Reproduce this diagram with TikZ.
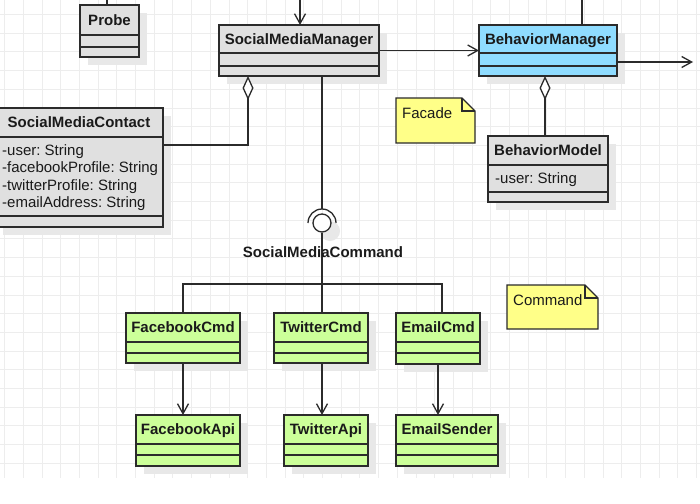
\documentclass[tikz,border=0pt]{standalone}
\usepackage{fontspec}
\setmainfont{Liberation Sans}
\frenchspacing
\usetikzlibrary{arrows.meta}
\definecolor{gridc}{HTML}{EDEDED}
\definecolor{shadowc}{HTML}{E8E8E8}
\definecolor{grayfill}{HTML}{E0E0E0}
\definecolor{bluefill}{HTML}{8FDCFF}
\definecolor{greenfill}{HTML}{CCFF99}
\definecolor{notefill}{HTML}{FFFF88}
\definecolor{linec}{HTML}{2B2B2B}
\definecolor{textc}{HTML}{1A1A1A}
\tikzset{
  clsbox/.style={draw=linec, line width=1.3pt, inner sep=0pt, outer sep=0pt, rectangle},
  clsname/.style={font=\fontsize{15}{17.5}\selectfont\bfseries, text=textc, inner sep=0pt, anchor=base},
  attr/.style={font=\fontsize{15}{17.5}\selectfont, text=textc, inner sep=0pt, anchor=base west},
  conn/.style={draw=linec, line width=1.3pt},
  opena/.style={-{Straight Barb[length=10pt,width=11pt]}},
  agg/.style={{Diamond[length=24pt,width=11pt,fill=white]}-},
  notebox/.style={draw=linec, line width=1.3pt, fill=notefill},
}
\newcommand{\umlcls}[9]{%
  \fill[shadowc] ({#2+8},{#3+8}) rectangle ({#4+8},{#5+8});
  \node[clsbox,fill=#8,minimum width={((#4)-(#2))*1pt},minimum height={((#5)-(#3))*1pt}] (#1) at ({((#2)+(#4))/2},{((#3)+(#5))/2}) {};
  \draw[conn] (#2,#6) -- (#4,#6) (#2,#7) -- (#4,#7);
  \node[clsname] (#1-n) at ({((#2)+(#4))/2},{((#3)+(#6))/2+5.4}) {#9};
}
\newcommand{\umlnote}[6]{% name, x1, y1, x2, y2, text
  \draw[notebox] (#2,#3) -- ({#4-13},#3) -- (#4,{#3+13}) -- (#4,#5) -- (#2,#5) -- cycle;
  \draw[conn] ({#4-13},#3) -- ({#4-13},{#3+13}) -- (#4,{#3+13});
  \node[attr] (#1) at ({#2+6},{#3+20}) {#6};
}
\begin{document}
\begin{tikzpicture}[x=1pt,y=-1pt]
\useasboundingbox (0,0) rectangle (700,503);
\clip (0,0) rectangle (700,503);
\fill[white] (0,0) rectangle (700,503);
% grid
\foreach \i in {0,...,37} \draw[gridc, line width=0.8pt] ({4.5+18.7*\i},0) -- ({4.5+18.7*\i},478);
\foreach \j in {0,...,24} \draw[gridc, line width=0.8pt] (0,{14.4+18.7*\j}) -- (700,{14.4+18.7*\j});

% classes
\umlcls{probe}{80}{5}{139}{57}{35}{47}{grayfill}{Probe}
\umlcls{smm}{219}{25}{379}{76}{53}{66}{grayfill}{SocialMediaManager}
\umlcls{bm}{479}{25}{617}{76}{53}{66}{bluefill}{BehaviorManager}
\umlcls{smc}{-5}{108}{163}{227}{137}{216}{grayfill}{SocialMediaContact}
\umlcls{bmod}{488}{136}{608}{202}{165}{192}{grayfill}{BehaviorModel}
\umlcls{fbc}{126}{313}{240}{363}{342}{353}{greenfill}{FacebookCmd}
\umlcls{twc}{274}{313}{368}{363}{342}{353}{greenfill}{TwitterCmd}
\umlcls{emc}{396}{313}{480}{364}{342}{353}{greenfill}{EmailCmd}
\umlcls{fba}{136}{415}{240}{466}{444}{455}{greenfill}{FacebookApi}
\umlcls{twa}{284}{415}{368}{466}{444}{455}{greenfill}{TwitterApi}
\umlcls{ems}{396}{415}{498}{466}{444}{455}{greenfill}{EmailSender}

% attributes
\node[attr] (smc-a1) at (2,155) {-user: String};
\node[attr] (smc-a2) at (2,172.5) {-facebookProfile: String};
\node[attr] (smc-a3) at (2,190) {-twitterProfile: String};
\node[attr] (smc-a4) at (2,207.5) {-emailAddress: String};
\node[attr] (bmod-a1) at (495,183.5) {-user: String};

% notes
\umlnote{facade}{396}{98}{475}{143}{Facade}
\umlnote{command}{507}{285}{598}{329}{Command}

% coordinates
\coordinate (ptop) at (107,-5);
\coordinate (smmin) at (300,-5);
\coordinate (bmin) at (582,-5);
\coordinate (bmout) at (693,62);
\coordinate (smcbend) at (248,145);
\coordinate (bmx) at (545,100);
\coordinate (sock) at (322,209);
\coordinate (jn) at (322,284);

% top connectors
\draw[conn] (ptop |- probe.north) -- (ptop);
\draw[conn,opena] (smmin) -- (smmin |- smm.north);
\draw[conn] (bmin |- bm.north) -- (bmin);
\draw[conn,opena] (smm.east) -- (bm.west);
\draw[conn,opena] (bm.east |- bmout) -- (bmout);

% aggregations
\draw[conn,agg] (smm.south -| smcbend) -- (smcbend) -- (smcbend -| smc.east);
\draw[conn,agg] (bm.south -| bmx) -- (bmx |- bmod.north);

% interface
\fill[shadowc] (330,231) circle[radius=10];
\draw[conn] (smm.south -| sock) -- (sock);
\node[draw=linec, line width=1.3pt, fill=white, circle, minimum size=18pt, inner sep=0pt] (iface) at (322,223) {};
\draw[conn] (336,223) arc[start angle=0, end angle=-180, radius=14];
\draw[conn] (iface.south) -- (jn);
\node[clsname] (ifl) at (323,257.4) {SocialMediaCommand};

% command tree
\draw[conn] (fbc.north) |- (jn) -| ([xshift=4pt]emc.north);
\draw[conn] (jn) -- (jn |- twc.north);
\draw[conn,opena] (fbc.south) -- (fbc.south |- fba.north);
\draw[conn,opena] (jn |- twc.south) -- (jn |- twa.north);
\draw[conn,opena] (emc.south) -- (emc.south |- ems.north);
\end{tikzpicture}
\end{document}
